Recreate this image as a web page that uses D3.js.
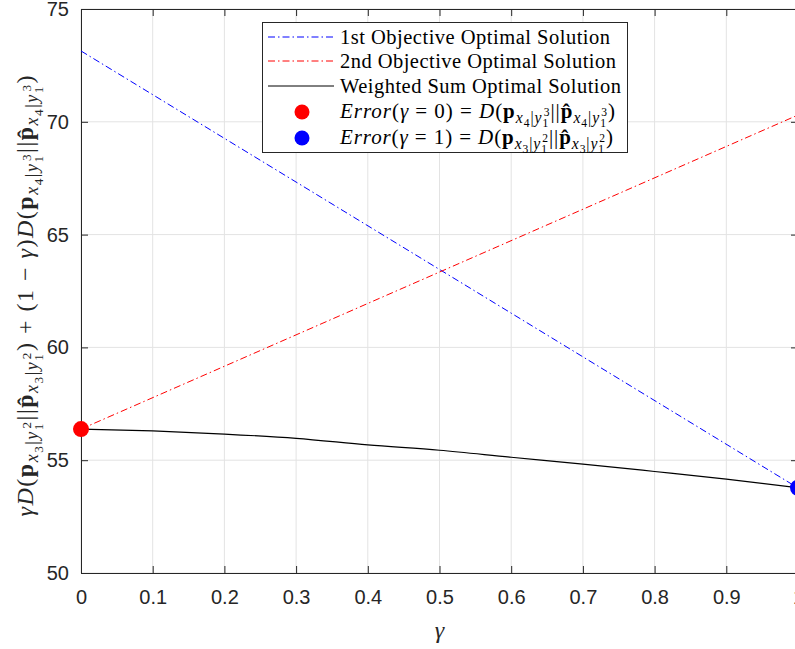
<!DOCTYPE html>
<html>
<head>
<meta charset="utf-8">
<script src="https://cdn.jsdelivr.net/npm/d3@7"></script>
<style>
  body { margin: 0; background: #fff; }
  .tick text { font-family: "Liberation Sans", Arial, sans-serif; }
</style>
</head>
<body>
<div id="chart"></div>
<script>
// data
const lineGamma = [0, 1];
const firstObj = [73.14, 53.77];
const secondObj = [56.38, 70.30];
const gammaVals = [0, 0.1, 0.2, 0.3, 0.4, 0.5, 0.6, 0.7, 0.8, 0.9, 1];
const weighted = [56.38, 56.30, 56.16, 55.97, 55.68, 55.44, 55.13, 54.83, 54.50, 54.16, 53.78];
const xTicks = [0, 0.1, 0.2, 0.3, 0.4, 0.5, 0.6, 0.7, 0.8, 0.9, 1];
const yTicks = [50, 55, 60, 65, 70, 75];
const errPoints = [
  { g: 0, v: 56.38, color: "#ff0000" },
  { g: 1, v: 53.78, color: "#0000ff" }
];

const W = 795, H = 649;
const margin = { top: 9, right: -3, bottom: 76, left: 81 };
const width = W - margin.left - margin.right;
const height = H - margin.top - margin.bottom;

const svg = d3.select("#chart").append("svg")
    .attr("width", W).attr("height", H);
svg.append("rect").attr("width", W).attr("height", H).attr("fill", "#fff");

const g = svg.append("g").attr("transform", `translate(${margin.left},${margin.top})`);

const x = d3.scaleLinear().domain([0, 1]).range([0, width]);
const y = d3.scaleLinear().domain([50, 75]).range([height, 0]);

// grid
g.append("g").selectAll("line").data(xTicks).enter().append("line")
    .attr("x1", d => x(d)).attr("x2", d => x(d)).attr("y1", 0).attr("y2", height)
    .attr("stroke", "#e3e3e3").attr("stroke-width", 1);
g.append("g").selectAll("line").data(yTicks).enter().append("line")
    .attr("y1", d => y(d)).attr("y2", d => y(d)).attr("x1", 0).attr("x2", width)
    .attr("stroke", "#e3e3e3").attr("stroke-width", 1);

// axes
const axColor = "#262626";
g.append("g").attr("transform", `translate(0,${height})`)
    .call(d3.axisBottom(x).tickValues(xTicks).tickSize(-7).tickPadding(17).tickFormat(d3.format("")));
g.append("g")
    .call(d3.axisLeft(y).tickValues(yTicks).tickSize(-7).tickPadding(12));
g.append("g").call(d3.axisTop(x).tickValues(xTicks).tickSize(-7).tickFormat(""));
g.append("g").attr("transform", `translate(${width},0)`)
    .call(d3.axisRight(y).tickValues(yTicks).tickSize(-7).tickFormat(""));
g.selectAll(".domain").attr("stroke", axColor);
g.selectAll(".tick line").attr("stroke", axColor);
g.selectAll(".tick text").attr("fill", axColor).style("font-size", "20px");

const line = d3.line().x(d => x(d[0])).y(d => y(d[1]));
const dashDot = "7,3,1.5,3";

g.append("path").datum(lineGamma.map((d, i) => [d, firstObj[i]]))
    .attr("d", line).attr("fill", "none").attr("stroke", "#0000ff")
    .attr("stroke-width", 1).attr("stroke-dasharray", dashDot);
g.append("path").datum(lineGamma.map((d, i) => [d, secondObj[i]]))
    .attr("d", line).attr("fill", "none").attr("stroke", "#ff0000")
    .attr("stroke-width", 1).attr("stroke-dasharray", dashDot);
g.append("path").datum(gammaVals.map((d, i) => [d, weighted[i]]))
    .attr("d", d3.line().x(d => x(d[0])).y(d => y(d[1])).curve(d3.curveMonotoneX))
    .attr("fill", "none").attr("stroke", "#000").attr("stroke-width", 1.2);

g.selectAll(".err").data(errPoints).enter().append("circle")
    .attr("cx", d => x(d.g)).attr("cy", d => y(d.v)).attr("r", 8)
    .attr("fill", d => d.color);

// math text helper: parts = [text, italic, bold, shiftEm(down), scale, dxEm]
const serif = "'Liberation Serif', 'Times New Roman', serif";
function mathText(sel, parts, fs) {
  let prev = 0;
  parts.forEach(p => {
    const [t, it, bd, sh, sc, dx] = p;
    const ts = sel.append("tspan").text(t)
        .style("font-size", (fs * (sc || 1)) + "px")
        .style("font-style", it ? "italic" : "normal")
        .style("font-weight", bd ? "bold" : "normal")
        .attr("dy", ((sh || 0) - prev) * fs);
    if (dx) ts.attr("dx", dx * fs);
    prev = sh || 0;
  });
}
// p_{x_a|y_1^b}
function pSub(a, b, hat) {
  return [
    [hat ? "p\u0302" : "p", false, true, 0, 1],
    ["x", true, false, 0.22, 0.75],
    [a, false, false, 0.42, 0.55],
    ["|", false, false, 0.22, 0.75],
    ["y", true, false, 0.22, 0.75],
    ["1", false, false, 0.42, 0.55],
    [b, false, false, -0.1, 0.55, -0.27]
  ];
}
function divergence(a, b) {
  return [["D", true, false, 0, 1], ["(", false, false, 0, 1]]
    .concat(pSub(a, b, false))
    .concat([["||", false, false, 0, 1]])
    .concat(pSub(a, b, true))
    .concat([[")", false, false, 0, 1]]);
}

// legend
const leg = svg.append("g");
leg.append("rect").attr("x", 262.5).attr("y", 22.5).attr("width", 365).attr("height", 130)
    .attr("fill", "#fff").attr("stroke", axColor).attr("stroke-width", 1);
const rowY = [37, 61, 86, 112, 138];
const legFs = 20.5;
[["#0000ff", dashDot, "1st Objective Optimal Solution", 270],
 ["#ff0000", dashDot, "2nd Objective Optimal Solution", 276],
 ["#000", null, "Weighted Sum Optimal Solution", 281]].forEach((d, i) => {
  leg.append("line").attr("x1", 268).attr("x2", 334).attr("y1", rowY[i]).attr("y2", rowY[i])
      .attr("stroke", d[0]).attr("stroke-width", 1).attr("stroke-dasharray", d[1]);
  leg.append("text").attr("x", 340).attr("y", rowY[i] + 7)
      .attr("textLength", d[3]).attr("lengthAdjust", "spacing")
      .style("font-family", serif).style("font-size", legFs + "px").attr("fill", "#000").text(d[2]);
});
errPoints.forEach((d, i) => {
  const yy = rowY[3 + i];
  leg.append("circle").attr("cx", 302).attr("cy", yy).attr("r", 7.5).attr("fill", d.color);
  const t = leg.append("text").attr("x", 340).attr("y", yy + 6)
      .attr("textLength", i === 0 ? 275 : 273).attr("lengthAdjust", "spacing")
      .style("font-family", serif).attr("fill", "#000");
  const parts = [["Error", true, false, 0, 1], ["(", false, false, 0, 1],
      ["\u03b3", true, false, 0, 1], [" = " + d.g + ") = ", false, false, 0, 1]]
      .concat(i === 0 ? divergence("4", "3") : divergence("3", "2"));
  mathText(t, parts, 21);
});

// axis labels
svg.append("text").attr("x", margin.left + x(0.5)).attr("y", 638)
    .attr("text-anchor", "middle").style("font-family", serif).style("font-size", "24px")
    .style("font-style", "italic").attr("fill", axColor).text("\u03b3");

const yl = svg.append("text")
    .attr("transform", `translate(33,${292 + 4}) rotate(-90)`)
    .attr("text-anchor", "middle")
    .attr("textLength", 441).attr("lengthAdjust", "spacing")
    .style("font-family", serif).attr("fill", axColor);
mathText(yl, [["\u03b3", true, false, 0, 1]]
    .concat(divergence("3", "2"))
    .concat([[" + (1 \u2212 ", false, false, 0, 1], ["\u03b3", true, false, 0, 1], [")", false, false, 0, 1]])
    .concat(divergence("4", "3")), 24);
</script>
</body>
</html>
